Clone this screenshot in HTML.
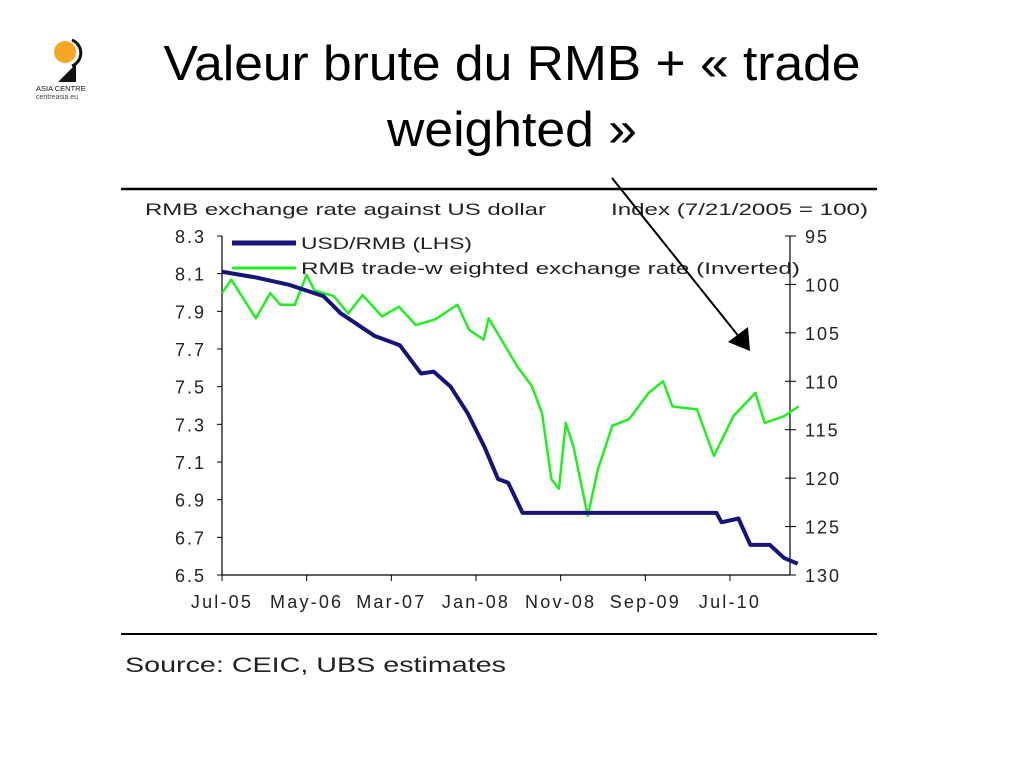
<!DOCTYPE html>
<html><head><meta charset="utf-8">
<style>
body{margin:0;width:1024px;height:768px;background:#fff;overflow:hidden;font-family:"Liberation Sans",sans-serif;}
svg{position:absolute;left:0;top:0}
</style></head>
<body>
<svg width="1024" height="768">
  <g>
    <circle cx="65" cy="52" r="11" fill="#f6a623"/>
    <path d="M72 40 A14 14 0 0 1 72 66" stroke="#111" stroke-width="3" fill="none"/>
    <polygon points="58,82 76,82 76,64" fill="#111"/>
    <text x="36" y="91" font-size="7.5" fill="#111">ASIA CENTRE</text>
    <text x="36" y="99" font-size="7" fill="#444">centreasia.eu</text>
  </g>
  <text x="512" y="80" text-anchor="middle" font-size="49" textLength="697" lengthAdjust="spacingAndGlyphs" fill="#000">Valeur brute du RMB + « trade</text>
  <text x="512" y="146" text-anchor="middle" font-size="49" textLength="250" lengthAdjust="spacingAndGlyphs" fill="#000">weighted »</text>
  <line x1="121" y1="189" x2="877" y2="189" stroke="#000" stroke-width="2.5"/>
  <line x1="121" y1="634" x2="877" y2="634" stroke="#000" stroke-width="2"/>
  <text x="145" y="215" font-size="17" textLength="401" lengthAdjust="spacingAndGlyphs" fill="#222">RMB exchange rate against US dollar</text>
  <text x="611" y="215" font-size="17" textLength="257" lengthAdjust="spacingAndGlyphs" fill="#222">Index (7/21/2005 = 100)</text>
  <text x="125" y="672" font-size="21" textLength="381" lengthAdjust="spacingAndGlyphs" fill="#222">Source: CEIC, UBS estimates</text>
  <g id="chart"></g>
  <g>
    <line x1="232" y1="243" x2="296" y2="243" stroke="#14147a" stroke-width="5"/>
    <text x="301" y="249" font-size="17" textLength="171" lengthAdjust="spacingAndGlyphs" fill="#222">USD/RMB (LHS)</text>
    <line x1="232" y1="268" x2="296" y2="268" stroke="#22ee22" stroke-width="3"/>
    <text x="301" y="274" font-size="17" textLength="499" lengthAdjust="spacingAndGlyphs" fill="#222">RMB trade-w eighted exchange rate (Inverted)</text>
  </g>
  <line x1="612" y1="178" x2="740" y2="338" stroke="#000" stroke-width="2"/>
  <polygon points="750,351 728,342 748,327" fill="#000"/>
</svg>
<script>
const months = [0,4,8,10,12,14,18,21,23.5,25,27,29,31,32.6,33.8,35.5,39.5,45,50,55,58.4,59,61,62.4,64.7,66.4,68];
const usdRmb = [8.11,8.08,8.04,8.01,7.98,7.89,7.77,7.72,7.57,7.58,7.50,7.36,7.18,7.01,6.99,6.83,6.83,6.83,6.83,6.83,6.83,6.78,6.80,6.66,6.66,6.59,6.56];
const twMonths = [0,1.1,4,5.7,6.9,8.6,10,10.9,13.2,14.9,16.6,18.9,20.9,22.9,25.2,27.8,29.2,30.9,31.5,33.2,34.9,36.6,37.8,38.9,39.8,40.6,41.5,43.2,44.4,46.1,48.1,50.4,52.1,53.2,56.1,58.1,60.4,63,64.1,66.4,68.1];
const tradeWeighted = [100.9,99.5,103.5,100.9,102.1,102.1,99.0,100.6,101.2,103.0,101.1,103.3,102.3,104.2,103.6,102.1,104.7,105.7,103.5,106.0,108.5,110.5,113.3,120.1,121.1,114.3,116.7,123.9,119.1,114.6,113.9,111.2,110.0,112.6,112.9,117.7,113.6,111.2,114.3,113.6,112.6];
const leftTicks = [8.3,8.1,7.9,7.7,7.5,7.3,7.1,6.9,6.7,6.5];
const rightTicks = [95,100,105,110,115,120,125,130];
const xTickMonths = [0,10,20,30,40,50,60];
const xTickLabels = ["Jul-05","May-06","Mar-07","Jan-08","Nov-08","Sep-09","Jul-10"];

const NS="http://www.w3.org/2000/svg";
const g=document.getElementById('chart');
const X0=222,X1=790,Y0=236,Y1=575;
const xS=m=>X0+m*(730-222)/60;
const yL=v=>Y0+(8.3-v)/(8.3-6.5)*(Y1-Y0);
const yR=v=>Y0+(v-95)/(130-95)*(Y1-Y0);
function mk(t,a){const e=document.createElementNS(NS,t);for(const k in a)e.setAttribute(k,a[k]);g.appendChild(e);return e;}
let e;
e=mk('line',{x1:X0,y1:Y0,x2:X0,y2:Y1,stroke:'#000','stroke-width':1.2});


e=mk('line',{x1:X1,y1:Y0,x2:X1,y2:Y1,stroke:'#000','stroke-width':1.2});


e=mk('line',{x1:X0,y1:Y1,x2:X1,y2:Y1,stroke:'#000','stroke-width':1.2});


leftTicks.forEach(v=>{
  const y=yL(v);
  e=mk('line',{x1:X0-5,y1:y,x2:X0,y2:y,stroke:'#000'});
  
  
  e=mk('text',{x:X0-16,y:y+7,'text-anchor':'end','font-size':18,'letter-spacing':2,fill:'#222'});e.textContent=v.toFixed(1);
  
  
});
rightTicks.forEach(v=>{
  const y=yR(v);
  e=mk('line',{x1:X1-5,y1:y,x2:X1+6,y2:y,stroke:'#000'});
  
  
  e=mk('text',{x:X1+15,y:y+7,'font-size':18,'letter-spacing':2,fill:'#222'});e.textContent=v;
  
  
});
xTickMonths.forEach((m,i)=>{
  const x=xS(m);
  e=mk('line',{x1:x,y1:Y1,x2:x,y2:Y1+6,stroke:'#000'});
  
  
  e=mk('text',{x:x,y:Y1+33,'text-anchor':'middle','font-size':18,'letter-spacing':2.2,fill:'#222'});e.textContent=xTickLabels[i];
  
  
});
e=mk('polyline',{points:twMonths.map((m,i)=>xS(m)+','+yR(tradeWeighted[i])).join(' '),fill:'none',stroke:'#22ee22','stroke-width':2.5,'stroke-linejoin':'round'});


e=mk('polyline',{points:months.map((m,i)=>xS(m)+','+yL(usdRmb[i])).join(' '),fill:'none',stroke:'#14147a','stroke-width':4,'stroke-linejoin':'round'});


</script>
</body></html>
